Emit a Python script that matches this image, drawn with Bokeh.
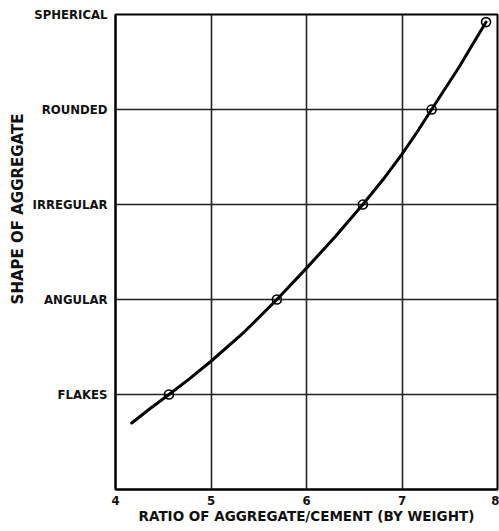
from bokeh.plotting import figure
from bokeh.models import FixedTicker, Range1d, Title
from bokeh.embed import file_html
from bokeh.resources import INLINE

# Shape categories (y positions 1..5)
shape_labels = ["FLAKES", "ANGULAR", "IRREGULAR", "ROUNDED", "SPHERICAL"]
shape_pos = [1, 2, 3, 4, 5]

# Measured points (ratio aggregate/cement vs shape)
point_x = [4.56, 5.69, 6.59, 7.31, 7.88]
point_y = [1.0, 2.0, 3.0, 4.0, 4.92]

# Curve
curve_x = [4.17, 4.36, 4.56, 4.78, 5.0, 5.35, 5.69, 6.0, 6.3, 6.59, 6.8, 7.0, 7.15, 7.31, 7.6, 7.88]
curve_y = [0.70, 0.85, 1.0, 1.17, 1.35, 1.66, 2.0, 2.33, 2.66, 3.0, 3.26, 3.53, 3.75, 4.0, 4.45, 4.92]

x_ticks = [4, 5, 6, 7, 8]

TICK_FONT = "DejaVu Sans Condensed"
LABEL_FONT = "DejaVu Sans"

p = figure(width=499, height=531, output_backend="svg", toolbar_location=None,
           x_range=Range1d(4, 8), y_range=Range1d(0, 5),
           min_border_left=115, min_border_right=2, min_border_top=14, min_border_bottom=42)

p.outline_line_color = "black"
p.outline_line_width = 2
p.background_fill_color = "white"

p.xaxis.ticker = FixedTicker(ticks=x_ticks)
p.yaxis.ticker = FixedTicker(ticks=shape_pos)
p.yaxis.major_label_overrides = {pos: lab for pos, lab in zip(shape_pos, shape_labels)}

for ax in (p.xaxis, p.yaxis):
    ax.axis_line_color = "black"
    ax.axis_line_width = 2
    ax.major_tick_line_color = None
    ax.minor_tick_line_color = None
    ax.major_label_text_font = TICK_FONT
    ax.major_label_text_font_style = "bold"
    ax.major_label_text_font_size = "13px"
    ax.major_label_text_color = "#111111"
    ax.axis_label_text_font = LABEL_FONT
    ax.axis_label_text_font_style = "bold"
    ax.axis_label_text_font_size = "13.5px"
    ax.axis_label_text_color = "#111111"

p.xaxis.major_label_standoff = 0
p.xaxis.axis_label_standoff = 0
p.yaxis.major_label_standoff = 2
p.xaxis.axis_label = "RATIO OF AGGREGATE/CEMENT (BY WEIGHT)"

ytitle = Title(text="SHAPE OF AGGREGATE", align="right", offset=99,
               text_font=LABEL_FONT, text_font_style="bold", text_font_size="15px",
               text_color="#111111", standoff=6)
p.add_layout(ytitle, "left")

p.xgrid.ticker = FixedTicker(ticks=x_ticks)
p.ygrid.ticker = FixedTicker(ticks=shape_pos)
p.grid.grid_line_color = "#222222"
p.grid.grid_line_width = 1.6
p.grid.grid_line_alpha = 1.0

p.line(curve_x, curve_y, line_color="black", line_width=3, line_cap="round", line_join="round")
p.scatter(point_x, point_y, marker="circle", size=9, fill_color=None,
          line_color="black", line_width=1.6)

open("out.html", "w").write(file_html(p, INLINE))
